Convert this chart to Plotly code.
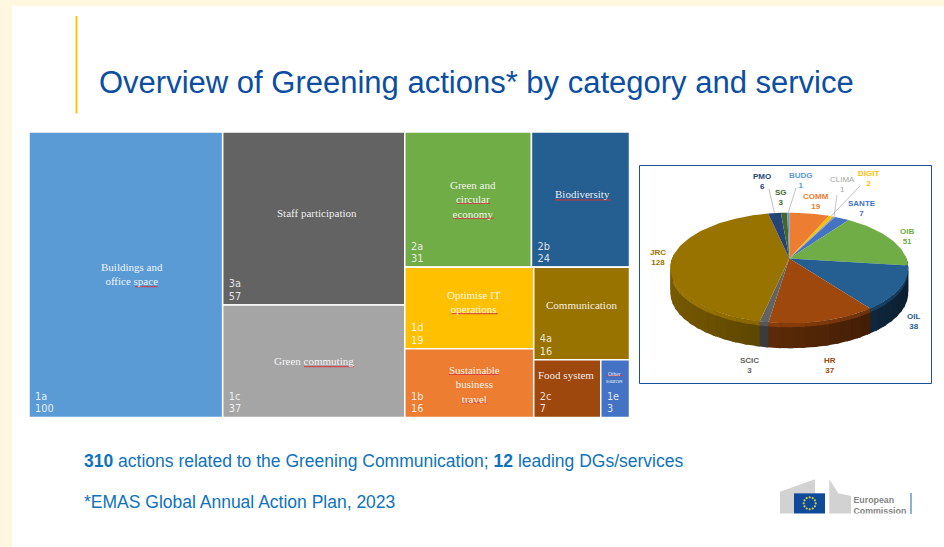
import math
import plotly.graph_objects as go

W, H = 944, 547

# ---------- data ----------
title_text = "Overview of Greening actions* by category and service"
line1_text = "<b>310</b> actions related to the Greening Communication; <b>12</b> leading DGs/services"
line2_text = "*EMAS Global Annual Action Plan, 2023"

tree_codes = ["1a", "3a", "1c", "2a", "2b", "1d", "1b", "4a", "2c", "1e"]
tree_values = [100, 57, 37, 31, 24, 19, 16, 16, 7, 3]
tree_names = ["Buildings and<br>office space", "Staff participation", "Green commuting",
              "Green and<br>circular<br>economy", "Biodiversity", "Optimise IT<br>operations",
              "Communication", "Sustainable<br>business<br>travel", "Food system", "Other<br>sources"]
tree_colors = ["#5b9bd5", "#636363", "#a5a5a5", "#70ad47", "#255e91", "#ffc000",
               "#ed7d31", "#997300", "#9e480e", "#4472c4"]
tree_parents = ["root", "g1", "g1", "g3", "g3", "g5", "g5", "g6", "g7", "g7"]
group_ids = ["g7", "g6", "g5", "g4", "g3", "g2", "g1"]
group_parents = ["g6", "g4", "g4", "g2", "g2", "root", "root"]

pie_names = ["COMM", "DIGIT", "CLIMA", "SANTE", "OIB", "OIL", "HR", "SCIC", "JRC", "PMO", "SG", "BUDG"]
pie_values = [19, 2, 1, 7, 51, 38, 37, 3, 128, 6, 3, 1]
pie_colors = ["#ed7d31", "#ffc000", "#a5a5a5", "#4472c4", "#70ad47", "#255e91",
              "#9e480e", "#636363", "#997300", "#264478", "#43682b", "#5b9bd5"]

# ---------- label placement (pixels) ----------
name_pos = [(131.7, 274), (316.7, 213), (314, 361), (472.7, 199), (582.7, 194),
            (474, 301.7), (581.7, 305), (474, 384), (565.7, 375), (614.7, 377)]
pie_label_pos = {"COMM": (816, 201.5), "DIGIT": (868, 178.5), "CLIMA": (842, 184), "SANTE": (862, 208.5),
                 "OIB": (907, 236.5), "OIL": (913, 321), "HR": (830, 365.5), "SCIC": (749, 365.5),
                 "JRC": (658, 257.5), "PMO": (762, 181), "SG": (781, 197.5), "BUDG": (801, 180.5)}
leader_ends = {"PMO": (769, 189), "BUDG": (796, 188), "CLIMA": (837, 195), "DIGIT": (860, 186)}
squiggles = [(135, 157.7, 286.7), (304, 354, 366.7), (456.7, 490, 203.3), (453, 494, 218.3),
             (555, 610.7, 200), (451.7, 497.7, 313.7), (449, 499, 374.3), (462, 487, 402.7),
             (606.7, 623, 375.7)]


def px(x):
    return x / W


def py(y):
    return 1 - y / H


fig = go.Figure()

# ---------- treemap, nested so slice-dice gives the reference layout ----------
children = {}
for c, p, v in zip(tree_codes, tree_parents, tree_values):
    children.setdefault(p, []).append(v)
group_vals = {}
for g, p in zip(group_ids, group_parents):
    group_vals[g] = sum(children.get(g, []))
    children.setdefault(p, []).append(group_vals[g])
root_total = sum(children["root"])

ids = ["root"]
parents = [""]
vals = [root_total]
cols = ["#ffffff"]
txt = [""]
order = [("1a", "root"), ("g1", "root"), ("g2", "root"),
         ("3a", "g1"), ("1c", "g1"),
         ("g3", "g2"), ("g4", "g2"),
         ("2a", "g3"), ("2b", "g3"),
         ("g5", "g4"), ("g6", "g4"),
         ("1d", "g5"), ("1b", "g5"),
         ("4a", "g6"), ("g7", "g6"),
         ("2c", "g7"), ("1e", "g7")]
for nid, par in order:
    ids.append(nid)
    parents.append(par)
    if nid in tree_codes:
        i = tree_codes.index(nid)
        vals.append(tree_values[i])
        cols.append(tree_colors[i])
        txt.append(f"&nbsp;{nid}<br>&nbsp;{tree_values[i]}")
    else:
        vals.append(group_vals[nid])
        cols.append("#ffffff")
        txt.append("")

fig.add_trace(go.Treemap(
    ids=ids, parents=parents, values=vals, labels=ids, text=txt,
    branchvalues="total", sort=False, textinfo="text",
    textposition="bottom left",
    textfont=dict(family="DejaVu Sans", size=9.8, color="rgba(255,255,255,0.85)"),
    marker=dict(colors=cols, line=dict(color="#ffffff", width=1.5), pad=dict(t=0, b=0, l=0, r=0)),
    tiling=dict(packing="slice-dice", pad=0),
    pathbar=dict(visible=False),
    hoverinfo="skip",
    domain=dict(x=[px(29), px(629.5)], y=[py(417.5), py(132)]),
))

# ---------- tilted 3D pie, projected from the values ----------
CX, AY = 789.3, 258.5   # apex
R, HH, K = 117.2, 53.7, 0.172
DEPTH = 25.0


def rim(theta, scale=1.0):
    s, c = math.sin(theta), math.cos(theta)
    w = 1 + K * c
    return CX + scale * R * s / w, AY - scale * HH * c / w


def shade(hex_color, f):
    r, g, b = [int(hex_color[i:i + 2], 16) for i in (1, 3, 5)]
    if f <= 1:
        r, g, b = r * f, g * f, b * f
    else:
        r, g, b = r + (255 - r) * (f - 1), g + (255 - g) * (f - 1), b + (255 - b) * (f - 1)
    return f"rgb({int(r)},{int(g)},{int(b)})"


pie_total = sum(pie_values)
angles = [0.0]
for v in pie_values:
    angles.append(angles[-1] + v / pie_total * 2 * math.pi)


def poly(xs, ys, color):
    fig.add_trace(go.Scatter(x=xs, y=ys, mode="lines", fill="toself", fillcolor=color,
                             line=dict(width=0), hoverinfo="skip",
                             showlegend=False, xaxis="x", yaxis="y"))


STEP = math.radians(5)
OVERLAP = math.radians(2)
for i, col in enumerate(pie_colors):
    a0, a1 = angles[i], angles[i + 1]
    n = max(1, int((a1 - a0) / STEP))
    for j in range(n):
        t0 = a0 + (a1 - a0) * j / n
        t1 = a0 + (a1 - a0) * (j + 1) / n
        tm = (t0 + t1) / 2
        if math.cos(tm) > 0.05:
            continue
        f = 0.56 - 0.24 * math.sin(tm)
        ext = min(t1 + OVERLAP, a1 + OVERLAP if i + 1 < len(pie_colors) else a1)
        x0, y0 = rim(t0)
        x1, y1 = rim(ext)
        poly([x0, x1, x1, x0, x0], [y0, y1, y1 + DEPTH, y0 + DEPTH, y0], shade(col, f))
        poly([x0, x1, x1, x0, x0], [y0, y1, y1 + 4, y0 + 4, y0], shade(col, f + 0.28))

for i, col in enumerate(pie_colors):
    a0, a1 = angles[i], angles[i + 1]
    n = max(2, int((a1 - a0) / math.radians(2)))
    pts = [rim(a0 + (a1 - a0) * j / n) for j in range(n + 1)]
    poly([CX] + [p[0] for p in pts] + [CX], [AY] + [p[1] for p in pts] + [AY], col)

# EU flag stars on a ring
star_ring = [(809.7 + 6 * math.cos(math.radians(30 * k)), 503.3 + 6 * math.sin(math.radians(30 * k)))
             for k in range(12)]
fig.add_trace(go.Scatter(x=[p[0] for p in star_ring], y=[p[1] for p in star_ring], mode="markers",
                         marker=dict(symbol="circle", size=2.2, color="#d9cf35"),
                         hoverinfo="skip", showlegend=False, xaxis="x", yaxis="y"))

fig.add_trace(go.Scatter(x=[853.5, 853.5], y=[500.7, 512], text=["<b>European</b>", "<b>Commission</b>"],
                         mode="text", textposition="middle right", cliponaxis=True,
                         textfont=dict(family="Liberation Sans", size=8.8, color="#858585"),
                         hoverinfo="skip", showlegend=False, xaxis="x2", yaxis="y2"))

# ---------- shapes ----------
shapes = [
    dict(type="rect", layer="below", xref="x", yref="y", x0=12, x1=W, y0=6, y1=H,
         fillcolor="#ffffff", line=dict(width=0)),
    dict(type="line", xref="x", yref="y", x0=76.5, x1=76.5, y0=16, y1=113.5,
         line=dict(color="#ffc20e", width=2)),
    dict(type="rect", layer="below", xref="x", yref="y", x0=639.5, x1=931.5, y0=165.5, y1=383.5,
         fillcolor="#ffffff", line=dict(color="#1f4e9c", width=1)),
    dict(type="path", layer="below", xref="x", yref="y",
         path="M780,491.7 L815,479.3 L815,493.3 L794,493.3 L794,513.5 L780,513.5 Z",
         fillcolor="#d2d2d2", line=dict(width=0)),
    dict(type="path", layer="below", xref="x", yref="y",
         path="M829.3,479.3 L838.3,493.3 L851,496 L851,513.5 L829.3,513.5 Z",
         fillcolor="#d2d2d2", line=dict(width=0)),
    dict(type="rect", layer="below", xref="x", yref="y", x0=794, x1=825, y0=493.3, y1=513.5,
         fillcolor="#0f4a9a", line=dict(width=0)),
    dict(type="line", layer="below", xref="x", yref="y", x0=911, x1=911, y0=493, y1=514,
         line=dict(color="#6f94c4", width=1.5)),
]
for x0, x1, y in squiggles:
    shapes.append(dict(type="line", xref="x", yref="y", x0=x0, x1=x1, y0=y, y1=y,
                       line=dict(color="#d8353f", width=1)))
for name, (lx, ly) in leader_ends.items():
    i = pie_names.index(name)
    sx, sy = rim((angles[i] + angles[i + 1]) / 2)
    shapes.append(dict(type="line", xref="x", yref="y", x0=sx, y0=sy, x1=lx, y1=ly,
                       line=dict(color="#a6a6a6", width=0.7)))

# ---------- annotations ----------
ann = [
    dict(x=97, y=82, xref="x", yref="y", text=title_text, xanchor="left", yanchor="middle", showarrow=False,
         font=dict(family="Liberation Sans", size=31, color="#0b4ea2")),
    dict(x=82, y=461, xref="x", yref="y", text=line1_text, xanchor="left", yanchor="middle", showarrow=False,
         font=dict(family="Liberation Sans", size=17.5, color="#0f72bd")),
    dict(x=82, y=502, xref="x", yref="y", text=line2_text, xanchor="left", yanchor="middle", showarrow=False,
         font=dict(family="Liberation Sans", size=17.5, color="#0f72bd")),
]
for nm, (x, y) in zip(tree_names, name_pos):
    size = 5.5 if nm.startswith("Other") else 11
    ann.append(dict(x=x, y=y, xref="x", yref="y", text=nm, showarrow=False, xanchor="center", yanchor="middle",
                    align="center", font=dict(family="Liberation Serif", size=size, color="rgba(255,255,255,0.92)")))
for nm, v, col in zip(pie_names, pie_values, pie_colors):
    x, y = pie_label_pos[nm]
    body = f"{nm}<br>{v}" if nm == "CLIMA" else f"<b>{nm}<br>{v}</b>"
    ann.append(dict(x=x, y=y, xref="x", yref="y", text=body, showarrow=False, xanchor="center", yanchor="middle",
                    align="center", font=dict(family="Liberation Sans", size=8, color=col)))

hidden = dict(visible=False, fixedrange=True)
fig.update_layout(
    width=W, height=H, margin=dict(l=0, r=0, t=0, b=0),
    paper_bgcolor="#fff7df", plot_bgcolor="rgba(0,0,0,0)",
    showlegend=False, shapes=shapes, annotations=ann,
    xaxis=dict(range=[0, W], domain=[0, 1], **hidden),
    yaxis=dict(range=[H, 0], domain=[0, 1], **hidden),
    xaxis2=dict(range=[850, 920], domain=[px(850), px(920)], anchor="y2", **hidden),
    yaxis2=dict(range=[513.5, 490], domain=[py(513.5), py(490)], anchor="x2", **hidden),
)

fig.write_html("out.html", config=dict(displayModeBar=False),
               post_script="document.body.style.margin='0';document.body.style.overflow='hidden';")
